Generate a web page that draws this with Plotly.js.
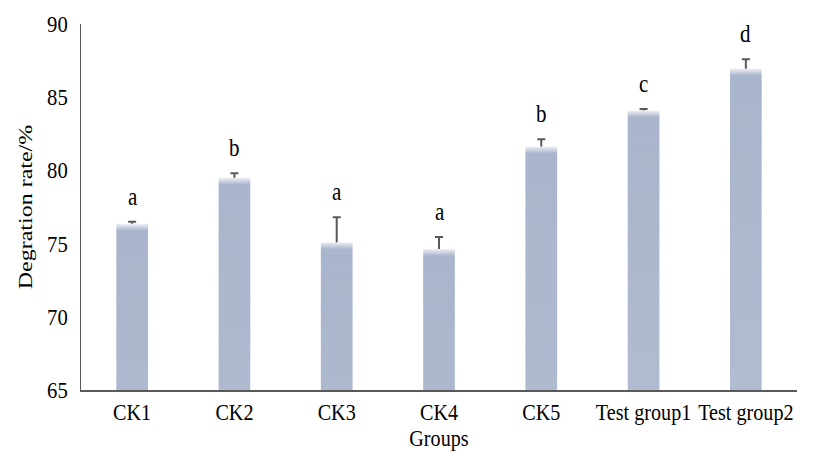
<!DOCTYPE html>
<html>
<head>
<meta charset="utf-8">
<script src="https://cdn.plot.ly/plotly-3.0.1.min.js"></script>
<style>html,body{margin:0;padding:0;background:#fff}#chart{width:825px;height:453px}</style>
</head>
<body>
<div id="chart"></div>
<script>
var groups = ['CK1', 'CK2', 'CK3', 'CK4', 'CK5', 'Test group1', 'Test group2'];
var rates = [76.35, 79.5, 75.1, 74.63, 81.63, 84.09, 86.95];
var errors = [0.15, 0.3, 1.7, 0.82, 0.5, 0.1, 0.64];
var letters = ['a', 'b', 'a', 'a', 'b', 'c', 'd'];

var serif = '"Liberation Serif", "Times New Roman", serif';

var data = [{
  type: 'bar',
  x: groups,
  y: rates,
  width: 0.31,
  marker: {color: '#b3bed3', line: {width: 0}},
  error_y: {type: 'data', symmetric: false, array: errors, arrayminus: errors.map(function(){return 0;}),
            color: '#595959', thickness: 2, width: 4},
  hoverinfo: 'none'
}];

var annotations = groups.map(function(g, i){
  return {x: g, y: rates[i] + errors[i], text: letters[i], showarrow: false, yanchor: 'bottom', yshift: 10,
          font: {family: serif, size: 25, color: '#000'}};
});

var layout = {
  width: 825, height: 453,
  margin: {l: 81, r: 28, t: 24, b: 63},
  paper_bgcolor: '#fff', plot_bgcolor: '#fff',
  showlegend: false,
  font: {family: serif, size: 18, color: '#000'},
  xaxis: {
    showline: true, linecolor: '#595959', linewidth: 1.5, showgrid: false, ticks: '', tickangle: 0,
    tickfont: {family: serif, size: 24, color: '#000'},
    title: {text: 'Groups', font: {family: serif, size: 24, color: '#000'}, standoff: 2}
  },
  yaxis: {
    range: [65, 90], dtick: 5, showline: true, linecolor: '#595959', linewidth: 1.5,
    showgrid: false, zeroline: false, ticks: '', ticklabelstandoff: 6,
    tickfont: {family: serif, size: 23, color: '#000'},
    title: {text: 'Degration rate/%', font: {family: serif, size: 24, color: '#000'}, standoff: 5}
  },
  annotations: annotations
};

function squeeze(el, k, vertical) {
  var bb = el.getBBox();
  var cx = bb.x + bb.width / 2, cy = bb.y + bb.height / 2;
  var t = el.getAttribute('transform') || '';
  var s = vertical ? ('translate(0,' + cy + ') scale(1,' + k + ') translate(0,' + (-cy) + ')')
                   : ('translate(' + cx + ',0) scale(' + k + ',1) translate(' + (-cx) + ',0)');
  el.setAttribute('transform', t + ' ' + s);
}

Plotly.newPlot('chart', data, layout, {staticPlot: true}).then(function(gd){
  var ns = 'http://www.w3.org/2000/svg';
  var svg = gd.querySelector('.main-svg');
  var defs = svg.querySelector('defs');
  if (!defs) { defs = document.createElementNS(ns, 'defs'); svg.insertBefore(defs, svg.firstChild); }
  gd.querySelectorAll('.bars .point path').forEach(function(p, i){
    var bb = p.getBBox();
    if (!bb.height) return;
    var f = Math.min(0.2, 7 / bb.height);
    var g = document.createElementNS(ns, 'linearGradient');
    g.setAttribute('id', 'bargrad' + i);
    g.setAttribute('x1', '0'); g.setAttribute('y1', '0');
    g.setAttribute('x2', '0'); g.setAttribute('y2', '1');
    [[0, '#eef0f5'], [f * 0.5, '#cbd2e1'], [f, '#a9b5cc'], [1, '#cad0df']].forEach(function(s){
      var st = document.createElementNS(ns, 'stop');
      st.setAttribute('offset', s[0]);
      st.setAttribute('stop-color', s[1]);
      g.appendChild(st);
    });
    defs.appendChild(g);
    p.style.fill = 'url(#bargrad' + i + ')';
  });
  gd.querySelectorAll('.errorbar path').forEach(function(p){
    var d = p.getAttribute('d');
    p.setAttribute('d', d.replace(/m-[\d.]+,0h[\d.]+$/, ''));
  });
  // narrow, tall serif look of the reference text
  gd.querySelectorAll('.xtick text, .g-xtitle text, .annotation-text').forEach(function(t){ squeeze(t, 0.84, false); });
  gd.querySelectorAll('.ytick text').forEach(function(t){ squeeze(t, 0.9, false); });
  gd.querySelectorAll('.g-ytitle text').forEach(function(t){ squeeze(t, 0.8, true); });
});
</script>
</body>
</html>
